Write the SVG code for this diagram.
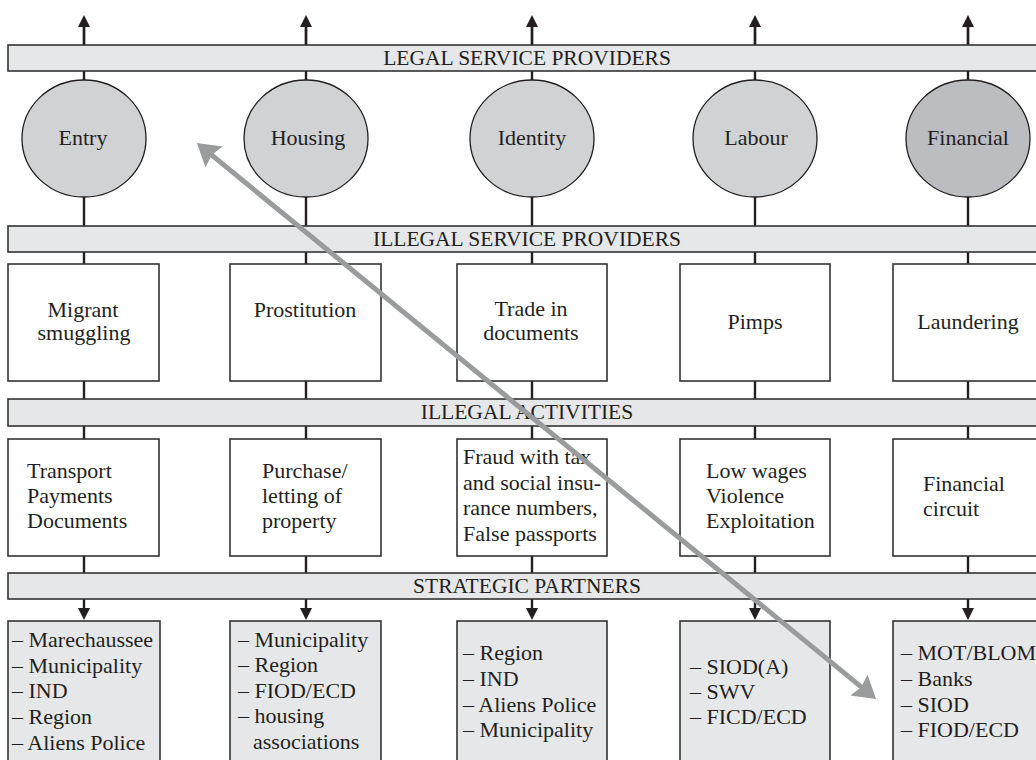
<svg xmlns="http://www.w3.org/2000/svg" width="1036" height="760" viewBox="0 0 1036 760">
<defs>
<style>
text{font-family:"Liberation Serif","Times New Roman",serif;fill:#231f20;font-size:22px}
.bar{fill:#e6e7e8;stroke:#333;stroke-width:1.6}
.bt{font-size:21.5px;text-anchor:middle}
.c{fill:#d1d2d4;stroke:#231f20;stroke-width:1.3}
.cd{fill:#bcbdc0;stroke:#231f20;stroke-width:1.3}
.b{fill:#fff;stroke:#333;stroke-width:1.6}
.bg{fill:#e6e7e8;stroke:#333;stroke-width:1.6}
.m{text-anchor:middle}
.v{stroke:#231f20;stroke-width:2.4;fill:none}
.g{stroke:#9a9b9d;stroke-width:5;fill:none}
</style>
<marker id="ah" markerUnits="userSpaceOnUse" markerWidth="12" markerHeight="12" viewBox="0 0 12 12" refX="0" refY="6" orient="auto"><path d="M0,0 L12,6 L0,12 z" fill="#231f20"/></marker>
<marker id="gh" markerUnits="userSpaceOnUse" markerWidth="22" markerHeight="27" viewBox="0 0 22 27" refX="4" refY="13.5" orient="auto-start-reverse"><path d="M0,0 L22,13.5 L0,27 L3,13.5 z" fill="#9a9b9d"/></marker>
</defs>
<rect width="1036" height="760" fill="#fff"/>

<g id="connectors">
<g id="vertical-lines">
<path class="v" d="M84,45 V27 M84,71 V80 M84,197 V226 M84,252 V264 M84,381 V399 M84,426 V439 M84,556 V573" />
<path class="v" d="M306,45 V27 M306,71 V80 M306,197 V226 M306,252 V264 M306,381 V399 M306,426 V439 M306,556 V573" />
<path class="v" d="M532,45 V27 M532,71 V80 M532,197 V226 M532,252 V264 M532,381 V399 M532,426 V439 M532,556 V573" />
<path class="v" d="M755,45 V27 M755,71 V80 M755,197 V226 M755,252 V264 M755,381 V399 M755,426 V439 M755,556 V573" />
<path class="v" d="M968,45 V27 M968,71 V80 M968,197 V226 M968,252 V264 M968,381 V399 M968,426 V439 M968,556 V573" />
<line class="v" x1="84" y1="45" x2="84" y2="27" marker-end="url(#ah)"/>
<line class="v" x1="306" y1="45" x2="306" y2="27" marker-end="url(#ah)"/>
<line class="v" x1="532" y1="45" x2="532" y2="27" marker-end="url(#ah)"/>
<line class="v" x1="755" y1="45" x2="755" y2="27" marker-end="url(#ah)"/>
<line class="v" x1="968" y1="45" x2="968" y2="27" marker-end="url(#ah)"/>
<line class="v" x1="84" y1="599" x2="84" y2="608" marker-end="url(#ah)"/>
<line class="v" x1="306" y1="599" x2="306" y2="608" marker-end="url(#ah)"/>
<line class="v" x1="532" y1="599" x2="532" y2="608" marker-end="url(#ah)"/>
<line class="v" x1="755" y1="599" x2="755" y2="608" marker-end="url(#ah)"/>
<line class="v" x1="968" y1="599" x2="968" y2="608" marker-end="url(#ah)"/>
</g>
</g>

<g id="bar-legal"><rect class="bar" x="8" y="45" width="1040" height="26"/><text class="bt" x="527" y="65">LEGAL SERVICE PROVIDERS</text></g>
<g id="bar-illegal-providers"><rect class="bar" x="8" y="226" width="1040" height="26"/><text class="bt" x="527" y="246">ILLEGAL SERVICE PROVIDERS</text></g>
<g id="bar-illegal-activities"><rect class="bar" x="8" y="399" width="1040" height="27"/><text class="bt" x="527" y="419">ILLEGAL ACTIVITIES</text></g>
<g id="bar-strategic"><rect class="bar" x="8" y="573" width="1040" height="26"/><text class="bt" x="527" y="592.5">STRATEGIC PARTNERS</text></g>

<g id="circle-entry"><ellipse class="c" cx="84" cy="138.5" rx="62" ry="58.5"/><text class="m" x="83" y="145">Entry</text></g>
<g id="circle-housing"><ellipse class="c" cx="306" cy="138.5" rx="62" ry="58.5"/><text class="m" x="308" y="145">Housing</text></g>
<g id="circle-identity"><ellipse class="c" cx="532" cy="138.5" rx="62" ry="58.5"/><text class="m" x="532" y="145">Identity</text></g>
<g id="circle-labour"><ellipse class="c" cx="755" cy="138.5" rx="62" ry="58.5"/><text class="m" x="756" y="145">Labour</text></g>
<g id="circle-financial"><ellipse class="cd" cx="968" cy="138.5" rx="62" ry="58.5"/><text class="m" x="968" y="145">Financial</text></g>

<g id="box-migrant"><rect class="b" x="8" y="264" width="151" height="117"/><text class="m" x="83" y="317">Migrant</text><text class="m" x="84" y="340">smuggling</text></g>
<g id="box-prostitution"><rect class="b" x="230" y="264" width="151" height="117"/><text class="m" x="305" y="317">Prostitution</text></g>
<g id="box-trade"><rect class="b" x="457" y="264" width="150" height="117"/><text class="m" x="531" y="316">Trade in</text><text class="m" x="531" y="340">documents</text></g>
<g id="box-pimps"><rect class="b" x="680" y="264" width="150" height="117"/><text class="m" x="755" y="329">Pimps</text></g>
<g id="box-laundering"><rect class="b" x="893" y="264" width="151" height="117"/><text class="m" x="968" y="329">Laundering</text></g>

<g id="box-transport"><rect class="b" x="8" y="439" width="151" height="117"/><text x="27" y="478">Transport</text><text x="27" y="503">Payments</text><text x="27" y="528">Documents</text></g>
<g id="box-purchase"><rect class="b" x="230" y="439" width="151" height="117"/><text x="262" y="478">Purchase/</text><text x="262" y="503">letting of</text><text x="262" y="528">property</text></g>
<g id="box-fraud"><rect class="b" x="457" y="439" width="150" height="117"/><text x="463" y="464">Fraud with tax</text><text x="463" y="490">and social insu-</text><text x="463" y="515">rance numbers,</text><text x="463" y="541">False passports</text></g>
<g id="box-lowwages"><rect class="b" x="680" y="439" width="150" height="117"/><text x="706" y="478">Low wages</text><text x="706" y="503">Violence</text><text x="706" y="528">Exploitation</text></g>
<g id="box-circuit"><rect class="b" x="893" y="439" width="151" height="117"/><text x="923" y="491">Financial</text><text x="923" y="516">circuit</text></g>

<g id="partners-entry"><rect class="bg" x="8" y="621" width="152" height="150"/><text x="12" y="647">– Marechaussee</text><text x="12" y="673">– Municipality</text><text x="12" y="698">– IND</text><text x="12" y="724">– Region</text><text x="12" y="750">– Aliens Police</text></g>
<g id="partners-housing"><rect class="bg" x="230" y="621" width="151" height="150"/><text x="238" y="647">– Municipality</text><text x="238" y="672">– Region</text><text x="238" y="698">– FIOD/ECD</text><text x="238" y="723">– housing</text><text x="253" y="749">associations</text></g>
<g id="partners-identity"><rect class="bg" x="457" y="621" width="150" height="150"/><text x="463" y="660">– Region</text><text x="463" y="686">– IND</text><text x="463" y="712">– Aliens Police</text><text x="463" y="737">– Municipality</text></g>
<g id="partners-labour"><rect class="bg" x="680" y="621" width="150" height="150"/><text x="690" y="674">– SIOD(A)</text><text x="690" y="699">– SWV</text><text x="690" y="724">– FICD/ECD</text></g>
<g id="partners-financial"><rect class="bg" x="893" y="621" width="151" height="150"/><text x="901" y="660">– MOT/BLOM</text><text x="901" y="686">– Banks</text><text x="901" y="712">– SIOD</text><text x="901" y="737">– FIOD/ECD</text></g>

<g id="diagonal-connector">
<line class="g" x1="210.9" y1="154.4" x2="862.1" y2="687.6" marker-start="url(#gh)" marker-end="url(#gh)"/>
</g>
</svg>
